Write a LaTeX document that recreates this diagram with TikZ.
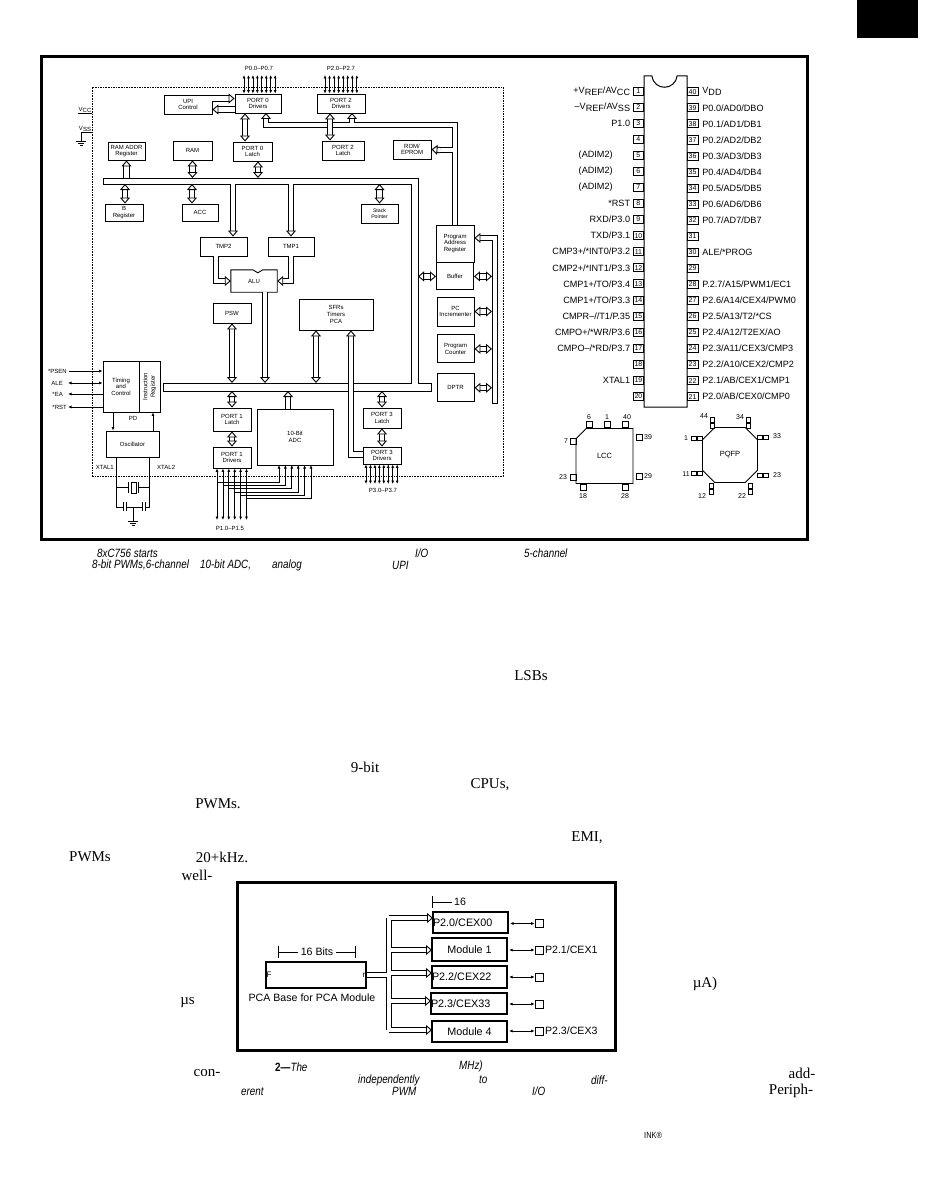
\documentclass[tikz,border=0pt]{standalone}
\usepackage{fontspec}
\setmainfont{Liberation Sans}
\newfontfamily\bodyfont{Liberation Serif}
\newfontfamily\capfont[FakeStretch=0.82]{Liberation Sans}
\usetikzlibrary{arrows.meta,positioning,shapes.misc}
\newcommand{\low}[1]{\raisebox{-1.8pt}{#1}}
\begin{document}
\begin{tikzpicture}[
    x=1pt, y=-1pt,
    font=\fontsize{6}{6.6}\selectfont,
    box/.style={draw, line width=.9pt, align=center, inner sep=0pt},
    heavy/.style={draw, line width=3pt},
    pipe/.style={preaction={draw=black, line width=6.2pt}, draw=white, line width=4.2pt},
    tipend/.style={draw=white, line width=.1pt, shorten >=0pt, shorten <=0pt},
    hup/.style={pipe, shorten >=5.5pt, postaction={tipend, -{Triangle[color=black, fill=white, line width=.9pt, length=6pt, width=10pt]}}},
    hboth/.style={pipe, shorten >=5.5pt, shorten <=5.5pt, postaction={tipend, {Triangle[color=black, fill=white, line width=.9pt, length=6pt, width=10pt]}-{Triangle[color=black, fill=white, line width=.9pt, length=6pt, width=10pt]}}},
    sig/.style={line width=.8pt, {Latex[length=3.5pt, width=3pt]}-{Latex[length=3.5pt, width=3pt]}},
    sigin/.style={line width=.8pt, -{Latex[length=3.5pt, width=3pt]}},
    lab/.style={inner sep=0pt},
    pinnum/.style={draw, line width=.7pt, inner sep=0pt, minimum width=10.5pt, minimum height=8pt, font=\fontsize{7}{7}\selectfont},
    pinlab/.style={inner sep=0pt, font=\fontsize{9.1}{9}\selectfont},
    pad/.style={draw, line width=.7pt, inner sep=0pt, minimum width=6pt, minimum height=6pt},
    pkglab/.style={inner sep=0pt, font=\fontsize{7}{8}\selectfont},
    mod/.style={draw, line width=1.1pt, inner sep=0pt, minimum height=22pt, font=\fontsize{10.8}{12}\selectfont},
    modlab/.style={inner sep=0pt, font=\fontsize{10.6}{12}\selectfont},
    body/.style={inner sep=0pt, font=\bodyfont\fontsize{15}{16}\selectfont},
    captxt/.style={inner sep=0pt, font=\capfont\itshape\fontsize{12}{12}\selectfont}
]
\useasboundingbox (0,0) rectangle (927,1196);
\node[fill=black, minimum width=61pt, minimum height=38pt, inner sep=0pt] (tab) at (887.5,19) {};

% figure 1 frame and chip outline
\node[heavy, minimum width=766pt, minimum height=482pt, inner sep=0pt] (fig) at (424,298) {};
\node[draw, dash pattern=on 1.6pt off 1pt, line width=.7pt, minimum width=411pt, minimum height=389pt, inner sep=0pt] (chip) at (297.5,281.5) {};

% busses
\coordinate (busat) at (103,178);
\coordinate (busab) at (103,184);
\coordinate (busbt) at (163,383);
\coordinate (busbb) at (163,391);
\draw[line width=.9pt, fill=white] (busat) -- (418,178) -- (418,383) -- (431,383) -- (431,391) -- (busbb) -- (busbt) -- (411,383) -- (411,184) -- (busab) -- cycle;

% boxes top row
\node[box, minimum width=48pt, minimum height=19pt] (upi) at (188,104.5) {UPI\\Control};
\node[box, minimum width=46pt, minimum height=19pt] (pzdr) at (258,103.5) {PORT 0\\Drivers};
\node[box, minimum width=48pt, minimum height=19pt] (ptdr) at (341,103.5) {PORT 2\\Drivers};
\node[box, minimum width=37pt, minimum height=18pt] (raddr) at (126.5,151) {RAM ADDR\\Register};
\node[box, minimum width=39pt, minimum height=19pt] (ram) at (192.5,150.5) {RAM};
\node[box, minimum width=39pt, minimum height=19pt] (pzla) at (252.5,151.5) {PORT 0\\Latch};
\node[box, minimum width=42pt, minimum height=19pt] (ptla) at (343,150.5) {PORT 2\\Latch};
\node[box, minimum width=38pt, minimum height=19pt] (rom) at (412,149.5) {ROM/\\EPROM};
\node[box, minimum width=38pt, minimum height=17pt] (breg) at (124,212.5) {B\\Register};
\node[box, minimum width=36pt, minimum height=17pt] (acc) at (200,212.5) {ACC};
\node[box, minimum width=37pt, minimum height=19pt, font=\fontsize{5.2}{5.8}\selectfont] (sp) at (379.5,213.5) {Stack\\Pointer};
\node[box, minimum width=47pt, minimum height=19pt] (tmpb) at (223.5,246.5) {TMP2};
\node[box, minimum width=46pt, minimum height=19pt] (tmpa) at (291,246.5) {TMP1};
\node[inner sep=0pt, minimum width=46pt, minimum height=22pt] (alu) at (254,281) {ALU};
\draw[line width=.9pt] (alu.north west) -- ++(22,0) -- ++(5,3) -- ++(5,-3) -- (alu.north east) -- (alu.south east) -- (alu.south west) -- cycle;

% right column
\node[box, minimum width=38pt, minimum height=37pt] (par) at (455,243.5) {Program\\Address\\Register};
\node[box, minimum width=37pt, minimum height=27pt, below=0pt of par] (buf) {Buffer};
\node[box, minimum width=37pt, minimum height=29pt] (inc) at (455.5,311.5) {PC\\Incrementer};
\node[box, minimum width=37pt, minimum height=28pt, below=8pt of inc] (pc) {Program\\Counter};
\node[box, minimum width=37pt, minimum height=28pt, below=10pt of pc] (dptr) {DPTR};

% middle and bottom
\node[box, minimum width=38pt, minimum height=20pt] (psw) at (232,313) {PSW};
\node[box, minimum width=74pt, minimum height=31pt] (sfr) at (336,314.5) {SFRs\\Timers\\PCA};
\node[box, minimum width=36pt, minimum height=51pt] (tc) at (121,386.5) {Timing\\and\\Control};
\node[box, minimum width=21pt, minimum height=51pt] (ir) at (149.5,386.5) {\rotatebox{90}{\shortstack{Instruction\\Register}}};
\node[box, minimum width=53pt, minimum height=26pt] (osc) at (132.5,444) {Oscillator};
\node[box, minimum width=38pt, minimum height=23pt] (pala) at (232,419.5) {PORT 1\\Latch};
\node[box, minimum width=38pt, minimum height=21pt] (padr) at (232,457.5) {PORT 1\\Drivers};
\node[box, minimum width=76pt, minimum height=56pt] (adc) at (295,437) {10-Bit\\ADC};
\node[box, minimum width=38pt, minimum height=20pt] (pcla) at (382,418) {PORT 3\\Latch};
\node[box, minimum width=38pt, minimum height=17pt] (pcdr) at (382,455.5) {PORT 3\\Drivers};

% program address tree
\coordinate (treec) at (455,125);
\draw[pipe] (par.north -| treec) -- (treec) -- (266,125) -- (266,119) (352,125) -- (352,119) (455,150) -- (437,150);
\draw[hup] (266,122) -- (266,113);
\draw[hup] (352,122) -- (352,113);
\draw[hup] (440,150) -- (rom.east);

% hollow links
\draw[hup] ([yshift=6pt]upi.east) -- ([yshift=6pt]upi.east -| pzdr.west);
\draw[hup] ([yshift=-6pt]pzdr.west) -- ([yshift=-6pt]pzdr.west -| upi.east);
\draw[hboth] ([xshift=-7.5pt]pzla.north) -- ([xshift=-7.5pt]pzla.north |- pzdr.south);
\draw[hboth] ([xshift=-13pt]ptla.north) -- ([xshift=-13pt]ptla.north |- ptdr.south);
\draw[hup] (raddr.south |- busat) -- (raddr.south);
\draw[hboth] (ram.south) -- (ram.south |- busat);
\draw[hboth] ([xshift=5.5pt]pzla.south) -- ([xshift=5.5pt]pzla.south |- busat);
\draw[hboth] ([xshift=1pt]breg.north) -- ([xshift=1pt]breg.north |- busab);
\draw[hboth] ([xshift=-8pt]acc.north) -- ([xshift=-8pt]acc.north |- busab);
\draw[hboth] (sp.north) -- (sp.north |- busab);
\draw[hup] ([xshift=9.5pt]tmpb.north |- busab) -- ([xshift=9.5pt]tmpb.north);
\draw[hup] (tmpa.north |- busab) -- (tmpa.north);
\draw[hup] ([xshift=-7.5pt]tmpb.south) |- (alu.west);
\draw[hup] (tmpa.south) |- (alu.east);
\draw[hup] ([xshift=11pt]alu.south) -- ([xshift=11pt]alu.south |- busbt);
\draw[hboth] (psw.south) -- (psw.south |- busbt);
\draw[hboth] ([xshift=-20pt]sfr.south) -- ([xshift=-20pt]sfr.south |- busbt);
\draw[hup] ([yshift=1pt]pcdr.west) -| ([xshift=15pt]sfr.south);
\draw[hboth] (pala.north) -- (pala.north |- busbb);
\draw[hboth] (padr.north) -- (pala.south);
\draw[hup] ([xshift=-7pt]adc.north) -- ([xshift=-7pt]adc.north |- busbb);
\draw[hboth] (pcla.north) -- (pcla.north |- busbb);
\draw[hboth] (pcdr.north) -- (pcla.south);

% program bus on the right
\coordinate (pbus) at (495,403);
\draw[hboth] (buf.west) -- (buf.west -| 418,0);
\draw[hboth] (buf.east) -- (buf.east -| 492,0);
\draw[hboth] (inc.east) -- (inc.east -| 492,0);
\draw[hboth] (pc.east) -- (pc.east -| 492,0);
\draw[hboth] (dptr.east) -- (dptr.east -| 492,0);
\draw[hup] (pbus) |- ([yshift=5.5pt]par.east);
\draw[line width=.9pt] (492,403) -- (498,403);

% port pins
\foreach \i in {0,...,7} {
    \coordinate (pz\i) at (244+\i*4.45,75);
    \coordinate (pt\i) at (325+\i*4.55,75);
    \coordinate (pc\i) at (366+\i*4.45,484);
    \draw[sig] (pz\i) -- (pz\i |- pzdr.north);
    \draw[sig] (pt\i) -- (pt\i |- ptdr.north);
    \draw[sig] (pc\i |- pcdr.south) -- (pc\i);
}
\foreach \i in {0,...,5} {
    \coordinate (pa\i) at (217+\i*5.9,520);
    \coordinate (ain\i) at (279+\i*6.4,465);
    \draw[sig] (pa\i |- padr.south) -- (pa\i);
    \draw[sigin] (pa\i) ++(0,{-38+3.3*\i}) -| (ain\i);
}
\node[lab] (pzl) at (259,68) {P0.0--P0.7};
\node[lab] (ptl) at (341,68) {P2.0--P2.7};
\node[lab] (pcl) at (383,490.5) {P3.0--P3.7};
\node[lab] (pal) at (230,528) {P1.0--P1.5};

% supply
\node[lab, font=\fontsize{6}{7}\selectfont] (vcc) at (85,110) {V\low{CC}};
\node[lab, font=\fontsize{6}{7}\selectfont] (vss) at (85,129) {V\low{SS}};
\coordinate (gnda) at (81,141);
\draw[line width=.7pt] (vcc.south west) -- (vcc.south west -| chip.west);
\draw[line width=.7pt] (vss.south -| chip.west) -- (vss.south -| gnda) -- (gnda);
\draw[line width=.8pt] (gnda) ++(-5,0) -- ++(10,0) (gnda) ++(-3,2) -- ++(6,0) (gnda) ++(-1.5,4) -- ++(3,0);

% control signals
\node[lab, anchor=east] (psen) at (67,371) {*PSEN};
\node[lab, anchor=east] (ale) at (63,383) {ALE};
\node[lab, anchor=east] (ea) at (63,394) {*EA};
\node[lab, anchor=east] (rst) at (67,407) {*RST};
\draw[sigin] (psen.east) ++(2,0) -- (psen.east -| tc.west);
\draw[sig] (ale.east) ++(5,0) -- (ale.east -| tc.west);
\draw[sigin] (tc.west |- ea.east) -- ([xshift=5pt]ea.east);
\draw[sigin] (tc.west |- rst.east) -- ([xshift=1pt]rst.east);
\node[lab] (pd) at (133,418) {PD};
\draw[sigin] (tc.south -| 113,0) -- (osc.north -| 113,0);
\draw[sigin] (osc.north -| 153,0) -- (ir.south -| 153,0);

% crystal
\node[lab, anchor=east] (xa) at (114,467) {XTAL1};
\node[lab, anchor=west] (xb) at (157,467) {XTAL2};
\coordinate (ca) at (116,507);
\coordinate (cb) at (149,507);
\node[draw, line width=.9pt, inner sep=0pt, minimum width=5pt, minimum height=11pt] (xtal) at (133.5,487.5) {};
\draw[line width=.7pt] (osc.south -| ca) -- (ca) -- (123,507) (osc.south -| cb) -- (cb) -- (145,507);
\draw[line width=.7pt] (ca |- xtal.west) -- (128,487.5) (xtal.east -| 138,0) -- (cb |- xtal.east);
\draw[line width=.9pt] (128,482) -- (128,493) (138,482) -- (138,493);
\draw[line width=.9pt] (123,502) -- (123,511) (126,502) -- (126,511) (142,502) -- (142,511) (145,502) -- (145,511);
\coordinate (gndb) at (133,521);
\draw[line width=.7pt] (126,507) -- (142,507) (133,507) -- (gndb);
\draw[line width=.8pt] (gndb) ++(-5,0) -- ++(10,0) (gndb) ++(-3,2) -- ++(6,0) (gndb) ++(-1.5,4) -- ++(3,0);

% DIP
\draw[line width=1pt] (644,76) -- (652,76) .. controls (654,91) and (675,91) .. (677,76) -- (687,76) -- (687,407) -- (644,407) -- cycle;
\foreach \n in {1,...,20} {
    \node[pinnum, anchor=east] (l\n) at (644,91+16.07*\n-16.07) {\n};
}
\foreach \n in {21,...,40} {
    \node[pinnum, anchor=west] (r\n) at (687,91.7+16.05*40-16.05*\n) {\n};
}
\foreach \n/\t in {1/{+V\low{REF}/AV\low{CC}}, 2/{--V\low{REF}/AV\low{SS}}, 3/{P1.0}, 8/{*RST}, 9/{RXD/P3.0}, 10/{TXD/P3.1}, 11/{CMP3+/*INT0/P3.2}, 12/{CMP2+/*INT1/P3.3}, 13/{CMP1+/TO/P3.4}, 14/{CMP1+/TO/P3.3}, 15/{CMPR--//T1/P.35}, 16/{CMPO+/*WR/P3.6}, 17/{CMPO--/*RD/P3.7}, 19/{XTAL1}} {
    \node[pinlab, left=2.5pt of l\n] {\t};
}
\foreach \n in {5,6,7} {
    \node[pinlab, left=20pt of l\n] {(ADIM2)};
}
\foreach \n/\t in {40/{V\low{DD}}, 39/{P0.0/AD0/DBO}, 38/{P0.1/AD1/DB1}, 37/{P0.2/AD2/DB2}, 36/{P0.3/AD3/DB3}, 35/{P0.4/AD4/DB4}, 34/{P0.5/AD5/DB5}, 33/{P0.6/AD6/DB6}, 32/{P0.7/AD7/DB7}, 30/{ALE/*PROG}, 28/{P.2.7/A15/PWM1/EC1}, 27/{P2.6/A14/CEX4/PWM0}, 26/{P2.5/A13/T2/*CS}, 25/{P2.4/A12/T2EX/AO}, 24/{P2.3/A11/CEX3/CMP3}, 23/{P2.2/A10/CEX2/CMP2}, 22/{P2.1/AB/CEX1/CMP1}, 21/{P2.0/AB/CEX0/CMP0}} {
    \node[pinlab, right=4pt of r\n] {\t};
}

% LCC
\node[draw, line width=.9pt, inner sep=0pt, chamfered rectangle, chamfered rectangle corners=north west, chamfered rectangle xsep=10pt, chamfered rectangle ysep=10pt, minimum width=57pt, minimum height=55pt, font=\fontsize{7.5}{8}\selectfont] (lcc) at (604.5,456) {LCC};
\foreach \nm/\x/\y in {a/589/424, b/607/424, c/625.5/424, d/573/441, e/573/477, f/639/437, g/639/476, h/583/487, i/625/487} {
    \node[pad] (lp\nm) at (\x,\y) {};
}
\foreach \t/\x/\y in {6/589/417, 1/607/417, 40/627/417, 7/566/441, 23/563/477, 39/648/437, 29/648/476, 18/583/496, 28/625/496} {
    \node[pkglab] at (\x,\y) {\t};
}

% PQFP
\node[draw, line width=.9pt, inner sep=0pt, chamfered rectangle, chamfered rectangle xsep=9pt, chamfered rectangle ysep=9pt, minimum width=55pt, minimum height=55pt, font=\fontsize{7.5}{8}\selectfont] (pqfp) at (730,455) {PQFP};
\foreach \x in {712.7,748.3} {
    \foreach \d in {-3,3} \node[pad, minimum width=4pt, minimum height=5pt] at (\x,422.5+\d) {};
}
\foreach \x in {711.7,750.7} {
    \foreach \d in {-3,3} \node[pad, minimum width=4pt, minimum height=5pt] at (\x,488.7+\d) {};
}
\foreach \y in {438,473} {
    \foreach \d in {-3,3} \node[pad, minimum width=5pt, minimum height=4pt] at (697+\d,\y) {};
}
\foreach \y in {437,475} {
    \foreach \d in {-3,3} \node[pad, minimum width=5pt, minimum height=4pt] at (763+\d,\y) {};
}
\foreach \t/\x/\y in {44/704/416, 34/740/417, 1/686/438, 11/686/474, 33/777/436, 23/777/475, 12/702/496, 22/742/496} {
    \node[pkglab] at (\x,\y) {\t};
}

% caption and text pieces
\node[captxt, anchor=west] (ca1) at (97,553) {8xC756 starts};
\node[captxt, anchor=west] (ca2) at (92,565) {8-bit PWMs,6-channel};
\node[captxt, anchor=west] (ca3) at (200,565) {10-bit ADC,};
\node[captxt, anchor=west] (ca4) at (272,565) {analog};
\node[captxt, anchor=west] (ca5) at (392,565) {UPI};
\node[captxt, anchor=west] (ca6) at (415,553) {I/O};
\node[captxt, anchor=west] (ca7) at (524,553) {5-channel};
\node[body] (t1) at (531,676) {LSBs};
\node[body] (t2) at (365,767) {9-bit};
\node[body] (t3) at (490,785) {CPUs,};
\node[body] (t4) at (218,804) {PWMs.};
\node[body] (t5) at (587,838) {EMI,};
\node[body] (t6) at (90,857) {PWMs};
\node[body] (t7) at (222,857) {20+kHz.};
\node[body] (t8) at (197,875) {well-};
\node[body] (t9) at (187.5,1003) {µs};
\node[body] (t10) at (705,984) {µA)};
\node[body] (t11) at (207,1073) {con-};
\node[body] (t12) at (802,1073) {add-};
\node[body] (t13) at (791,1091) {Periph-};
\node[captxt, anchor=west] (cb1) at (275,1067) {\textbf{\textup{2—}}The};
\node[captxt, anchor=west] (cb2) at (459,1066) {MHz)};
\node[captxt, anchor=west] (cb3) at (358,1080) {independently};
\node[captxt, anchor=west] (cb4) at (479,1080) {to};
\node[captxt, anchor=west] (cb5) at (591,1080) {diff-};
\node[captxt, anchor=west] (cb6) at (241,1092) {erent};
\node[captxt, anchor=west] (cb7) at (392,1091) {PWM};
\node[captxt, anchor=west] (cb8) at (532,1091) {I/O};
\node[captxt, anchor=west, font=\capfont\fontsize{9}{10}\selectfont] (cb9) at (644,1135) {INK®};

% figure 2
\node[heavy, minimum width=378pt, minimum height=168pt, inner sep=0pt] (figb) at (426,966) {};
\node[mod, minimum width=100pt, minimum height=26pt] (base) at (316,975) {};
\node[modlab, anchor=west, font=\fontsize{8}{9}\selectfont] (basea) at (266.5,975) {F};
\node[modlab, anchor=east, font=\fontsize{8}{9}\selectfont] (baseb) at (365.5,975) {r};
\node[modlab] (basel) at (312,998) {PCA Base for PCA Module};
\node[modlab, inner xsep=3pt] (bits) at (317,952) {16 Bits};
\coordinate (bta) at (278,952);
\coordinate (btb) at (355,952);
\draw[line width=.8pt] (bta) -- (bits) -- (btb) (bta) ++(0,-6) -- ++(0,12) (btb) ++(0,-6) -- ++(0,12);
\node[modlab] (sixt) at (460,902) {16};
\draw[line width=.8pt] (sixt.west) ++(-2,0) -- (432,902) (432,896) -- (432,908);
\node[mod, minimum width=75pt, minimum height=21pt, text width=75pt] (ma) at (470.5,922.5) {P2.0/CEX00};
\node[mod, minimum width=75pt, minimum height=23pt] (mb) at (469.5,949.5) {Module 1};
\node[mod, minimum width=75pt, minimum height=22pt, text width=75pt] (mc) at (469.5,977) {P2.2/CEX22};
\node[mod, minimum width=76pt, minimum height=21pt, text width=76pt] (md) at (469,1003.5) {P2.3/CEX33};
\node[mod, minimum width=75pt, minimum height=21pt] (me) at (469.5,1031.5) {Module 4};
\coordinate (trunk) at (389,975);
\draw[pipe] (base.east) -- (trunk) (389,918) -- (389,1030) (389,918) -- (425,918) (389,950) -- (425,950) (389,973) -- (425,973) (389,1001) -- (425,1001) (389,1030) -- (425,1030);
\draw[hup] (420,918) -- (433,918);
\draw[hup] (420,950) -- (432,950);
\draw[hup] (420,973) -- (432,973);
\draw[hup] (420,1001) -- (431,1001);
\draw[hup] (420,1030) -- (432,1030);
\foreach \m/\y in {a/923.5, b/950, c/977, d/1004, e/1031} {
    \node[draw, line width=.7pt, inner sep=0pt, minimum width=8pt, minimum height=8pt] (sq\m) at (539,\y) {};
    \draw[sig] (sq\m.west -| m\m.east) ++(1.5,0) -- (sq\m.west);
}
\node[modlab, right=1.5pt of sqb] (pba) {P2.1/CEX1};
\node[modlab, right=1.5pt of sqe] (pbb) {P2.3/CEX3};
\end{tikzpicture}
\end{document}
